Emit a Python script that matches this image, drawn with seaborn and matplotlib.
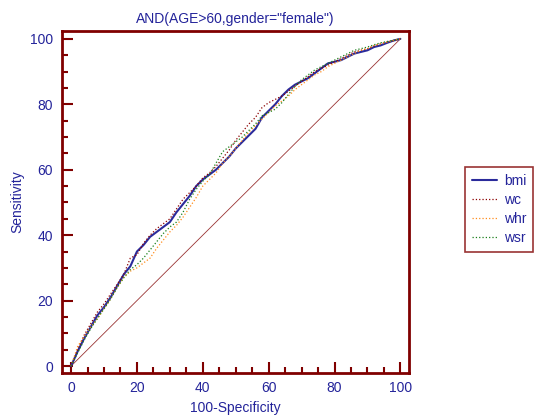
import numpy as np
import pandas as pd
import matplotlib
matplotlib.use("Agg")
import matplotlib.pyplot as plt
from matplotlib.ticker import MultipleLocator
import seaborn as sns

sns.set_style("white")
plt.rcParams['font.family'] = ['Liberation Sans', 'DejaVu Sans']

# false positive rate (100-Specificity) grid
fpr = list(range(0, 101, 2))

bmi = [0, 4.5, 8.5, 12, 15.5, 18, 21, 24.5, 28, 30.5, 35, 37, 39.5, 41, 42.5, 44, 47,
       49.5, 52, 55, 57, 58.5, 60, 62, 64, 66.5, 68.5, 70.5, 72.5, 76, 78, 80, 82.5,
       84.5, 86, 87, 88, 89.5, 91, 92.5, 93, 93.5, 94.5, 95.5, 96, 96.5, 97.5, 98,
       98.8, 99.5, 100]
wc = [0, 5, 9.5, 13, 16.5, 19, 22, 25, 28, 33, 34, 37.5, 40, 42, 43.5, 45, 48, 51,
      53, 55, 57.5, 59, 61, 63.5, 66, 69, 71.5, 74, 76, 79, 80.5, 81.5, 82.5, 84,
      85.5, 87, 88.5, 90, 91, 92, 93, 94, 95, 96, 96.5, 97, 97.8, 98.5, 99, 99.5, 100]
whr = [0, 6, 9, 12, 14.5, 17.5, 20.5, 24, 27, 29, 30, 31.5, 33, 36, 38.5, 41, 43,
       45.5, 48.5, 51.5, 55, 57, 59, 62, 64, 66.5, 69, 71.5, 73.5, 75.5, 77.5, 79.5,
       81, 82.5, 84.5, 86, 87.5, 89, 90, 91.5, 92.5, 93.5, 94.5, 95.5, 96.5, 97, 98,
       98.5, 99, 99.5, 100]
wsr = [0, 4, 8, 11.5, 14.5, 17.5, 20.5, 24, 27, 29.5, 31, 33, 35.5, 38, 40.5, 42.5,
       44, 47, 51, 54, 56.5, 58.5, 62, 65.5, 67, 68.5, 70, 72, 74, 76.5, 77.5, 78.5,
       80.5, 83, 85.5, 87.5, 89, 90.5, 91.5, 92.5, 93.5, 94.5, 95.5, 96.5, 97, 97.5,
       98.2, 98.8, 99.2, 99.6, 100]

names = ['bmi', 'wc', 'whr', 'wsr']
colors = ['#2b2b9b', '#8b0000', '#ff8c1a', '#1a7f1a']
styles = ['-', ':', ':', ':']
widths = [1.5, 0.9, 0.9, 0.9]

navy = '#24249a'
maroon = '#800000'

fig = plt.figure(figsize=(5.35, 4.19), dpi=100)
ax = fig.add_axes([0.115, 0.11, 0.65, 0.816])

# reference diagonal
sns.lineplot(x=[0, 100], y=[0, 100], ax=ax, color=maroon, lw=0.6, alpha=0.8)

for name, vals, c, ls, lw in zip(names, [bmi, wc, whr, wsr], colors, styles, widths):
    sns.lineplot(x=fpr, y=vals, ax=ax, color=c, linestyle=ls, lw=lw,
                 label=name, estimator=None, sort=False)

ax.set_xlim(-2.9, 102.7)
ax.set_ylim(-2.1, 102.4)
ax.xaxis.set_major_locator(MultipleLocator(20))
ax.yaxis.set_major_locator(MultipleLocator(20))
ax.xaxis.set_minor_locator(MultipleLocator(5))
ax.yaxis.set_minor_locator(MultipleLocator(5))
ax.tick_params(which='both', direction='in', color=maroon, width=1.5,
               labelcolor=navy, labelsize=10)
ax.tick_params(which='major', length=8, pad=6)
ax.tick_params(which='minor', length=4)
ax.tick_params(axis='x', which='both', bottom=True)
ax.tick_params(axis='y', which='both', left=True)
for s in ax.spines.values():
    s.set_color(maroon)
    s.set_linewidth(2)

ax.set_title('AND(AGE>60,gender="female")', color=navy, fontsize=10, pad=6)
ax.set_xlabel('100-Specificity', color=navy, fontsize=10)
ax.set_ylabel('Sensitivity', color=navy, fontsize=10)

leg = ax.legend(loc='upper left', bbox_to_anchor=(1.16, 0.602), frameon=True,
                fancybox=False, fontsize=10, handlelength=1.8, handletextpad=0.5,
                borderpad=0.5, borderaxespad=0, labelspacing=0.35)
leg.get_frame().set_edgecolor(maroon)
leg.get_frame().set_linewidth(1.2)
for t in leg.get_texts():
    t.set_color(navy)

fig.savefig('out.png', dpi=100)
